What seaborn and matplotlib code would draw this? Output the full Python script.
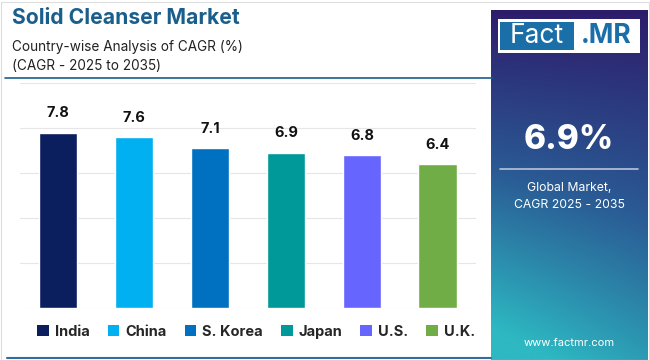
import numpy as np
import matplotlib
matplotlib.use('Agg')
import matplotlib.pyplot as plt
from matplotlib.patches import Patch, Rectangle
import seaborn as sns

countries = ['India', 'China', 'S. Korea', 'Japan', 'U.S.', 'U.K.']
cagr = [7.8, 7.6, 7.1, 6.9, 6.8, 6.4]
colors = ['#0b1f5e', '#00b0f0', '#0070c0', '#009999', '#6666ff', '#70ad47']

title = 'Solid Cleanser Market'
subtitle = 'Country-wise Analysis of CAGR (%)\n(CAGR - 2025 to 2035)'
global_cagr = '6.9%'
global_label = 'Global Market,\nCAGR 2025 - 2035'

sns.set_style('white')
plt.rcParams['font.family'] = ['Inter', 'DejaVu Sans']

fig = plt.figure(figsize=(6.5, 3.6), dpi=100)
fig.patch.set_facecolor('white')

# chart area
ax = fig.add_axes([0.031, 0.1444, 0.701, 0.6250])
sns.barplot(x=countries, y=cagr, hue=countries, palette=colors, width=0.51,
            legend=False, saturation=1, ax=ax)
ax.set_ylim(0, 10)
ax.set_xlim(-0.5, 5.5)
ax.set_yticks(np.arange(0, 11, 2))
ax.yaxis.grid(True, color='#e6e6e6', linewidth=0.8)
ax.set_axisbelow(True)
ax.set_xticks([])
ax.set_yticklabels([])
ax.tick_params(left=False, bottom=False)
ax.set_xlabel('')
ax.set_ylabel('')
for s in ax.spines.values():
    s.set_visible(False)
for c in ax.containers:
    ax.bar_label(c, fmt='%.1f', padding=9, fontsize=10.5, fontweight='bold',
                 color='#111111')

# titles
fig.text(0.018, 0.950, title, fontsize=15.2, fontweight='bold', color='#1a5e8c',
         va='center')
fig.text(0.018, 0.842, subtitle, fontsize=9.8, color='#222222', va='center',
         linespacing=1.45)
fig.add_artist(plt.Line2D([0.008, 0.757], [0.783, 0.783], color='#1a5e8c',
                          linewidth=1.2))

# legend
handles = [Patch(facecolor=col, edgecolor='none') for col in colors]
fig.legend(handles, countries, loc='center', bbox_to_anchor=(0.394, 0.078), ncol=6,
           frameon=False, handlelength=0.8, handleheight=0.8, handletextpad=0.4,
           columnspacing=1.25, prop={'weight': 'bold', 'size': 10.5})

# bottom line and border
fig.add_artist(plt.Line2D([0.01, 0.755], [0.006, 0.006], color='#2e6f9e',
                          linewidth=1.5))
fig.add_artist(Rectangle((0.001, 0.001), 0.998, 0.993, transform=fig.transFigure,
                         fill=False, edgecolor='#dddddd', linewidth=0.8))

# side panel with gradient
pax = fig.add_axes([0.755, 0.0, 0.241, 0.972])
yy, xx = np.mgrid[0:1:200j, 0:1:60j]
t = np.clip(0.85 * yy + 0.25 * (1 - xx) * yy, 0, 1)
top = np.array([0x2d, 0x1d, 0x6b]) / 255
mid = np.array([0x2a, 0x5a, 0x94]) / 255
bot = np.array([0x2d, 0xb8, 0xc2]) / 255
img = np.where(t[..., None] < 0.5,
               top + (mid - top) * (t[..., None] / 0.5),
               mid + (bot - mid) * ((t[..., None] - 0.5) / 0.5))
pax.imshow(img, extent=[0, 1, 0, 1], aspect='auto', origin='upper')
pax.set_xlim(0, 1)
pax.set_ylim(0, 1)
pax.axis('off')

# logo
pax.add_patch(Rectangle((0.045, 0.877), 0.91, 0.097, facecolor='white',
                        edgecolor='none'))
pax.add_patch(Rectangle((0.06, 0.885), 0.47, 0.081, facecolor='#1b6fa8',
                        edgecolor='none'))
pax.text(0.295, 0.925, 'Fact', color='white', fontsize=19, ha='center',
         va='center')
pax.text(0.74, 0.925, '.MR', color='#1b6fa8', fontsize=19, fontweight='bold',
         ha='center', va='center')

pax.text(0.5, 0.63, global_cagr, color='white', fontsize=24, fontweight='heavy',
         ha='center', va='center')
pax.plot([0.06, 0.94], [0.545, 0.545], color='#b8c4dc', linewidth=1.2)
pax.text(0.5, 0.468, global_label, color='white', fontsize=8.8, ha='center',
         va='center', linespacing=1.6)
pax.text(0.5, 0.05, 'www.factmr.com', color='white', fontsize=8, ha='center',
         va='center')

fig.savefig('out.png', dpi=100)
